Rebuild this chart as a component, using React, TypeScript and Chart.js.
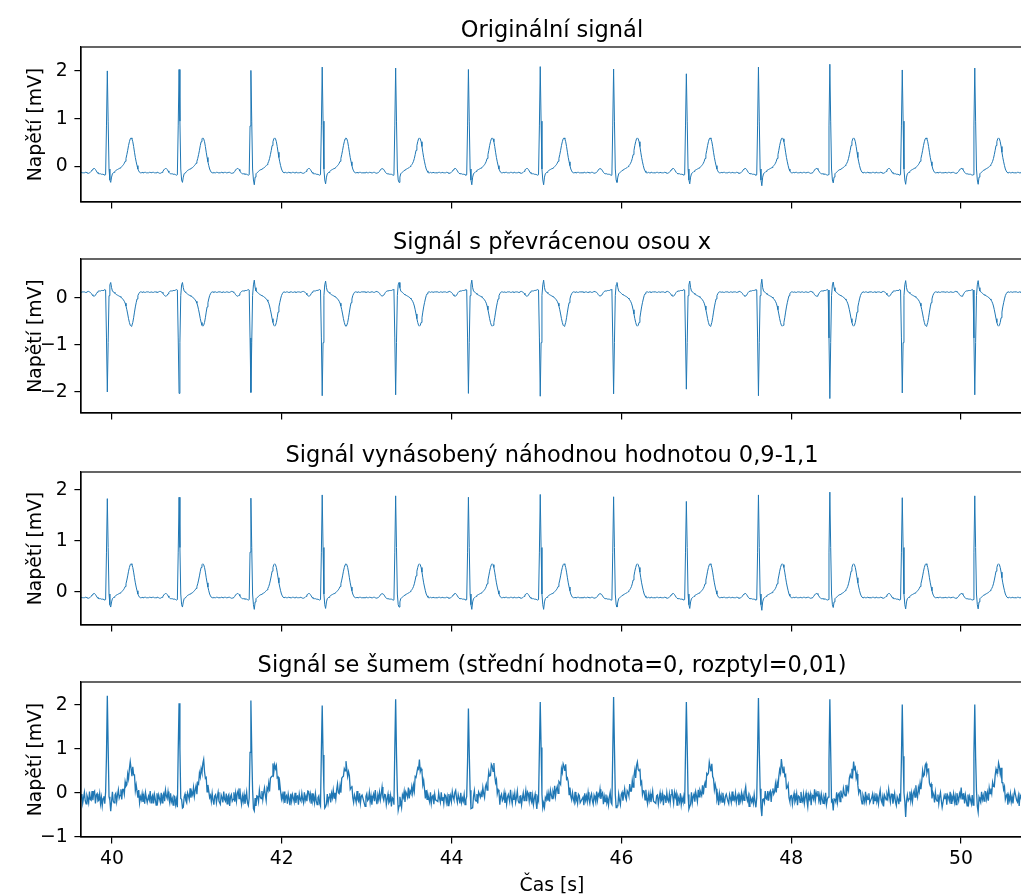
import React, { useEffect, useRef } from 'react';
import { Chart, registerables } from 'chart.js';

Chart.register(...registerables);
Chart.defaults.font.family = "'DejaVu Sans', sans-serif";
Chart.defaults.color = '#000';

// ---------------- data ----------------
// R-peak times [s] (last one lies beyond the visible window)
const beatTimes = [39.945, 40.79, 41.636, 42.476, 43.341, 44.198, 45.044, 45.908, 46.765, 47.614, 48.455, 49.308, 50.162, 51.015];
// R-peak heights of the original signal [mV]
const rPeaks = [2.0, 2.03, 2.01, 2.08, 2.06, 2.03, 2.09, 2.04, 1.94, 2.08, 2.14, 2.02, 2.06, 2.05];
// S-wave depths of the original signal [mV]
const sDepths = [-0.33, -0.33, -0.38, -0.36, -0.33, -0.38, -0.38, -0.33, -0.36, -0.4, -0.34, -0.37, -0.37, -0.36];
// R-peak heights seen in the noisy panel [mV]
const noisyRPeaks = [2.21, 2.04, 2.1, 1.99, 2.13, 1.92, 2.07, 2.18, 2.07, 2.16, 2.13, 2.01, 2.01, 2.05];

const templateStart = -0.36;
const templateStep = 0.01;
const rIndex = 36;
const sIndex = 40;
const beatTemplate = [
  -0.13, -0.12, -0.12, -0.13, -0.13, -0.12, -0.12, -0.13, -0.13, -0.13,
  -0.12, -0.12, -0.13, -0.14, -0.14, -0.13, -0.12, -0.1, -0.07, -0.05,
  -0.04, -0.04, -0.06, -0.09, -0.12, -0.14, -0.15, -0.15, -0.15, -0.16,
  -0.16, -0.16, -0.17, -0.18, -0.17, 0.85, 2.0, 0.95, -0.05, -0.28,
  -0.35, -0.22, -0.15, -0.13, -0.12, -0.1, -0.08, -0.07, -0.06, -0.05,
  -0.04, -0.03, -0.02, 0.0, 0.02, 0.04, 0.07, 0.11, 0.17, 0.25,
  0.34, 0.44, 0.52, 0.58, 0.6, 0.58, 0.52, 0.42, 0.3, 0.19,
  0.1, 0.02, -0.05, -0.09, -0.12, -0.13, -0.13, -0.12, -0.13, -0.13,
  -0.12, -0.12, -0.13, -0.13,
];

// gain applied in the third panel (read from the ratio of the peaks)
const gainFactor = 0.915;

// additive noise of the fourth panel [mV]
const noise = [
  0.03, -0.08, 0.12, -0.04, -0.15, 0.06, 0.09, -0.11, 0.02, 0.14, -0.06, -0.13, 0.07, 0.01, -0.09, 0.16,
  -0.03, -0.07, 0.11, -0.12, 0.05, 0.08, -0.18, 0.04, 0.1, -0.05, -0.02, 0.13, -0.1, 0.06, -0.14, 0.03,
  0.09, -0.07, 0.19, -0.01, -0.12, 0.08, -0.04, 0.11, -0.09, 0.02, 0.17, -0.06, -0.11, 0.05, 0.07, -0.13,
  0.01, 0.12, -0.08, -0.03, 0.1, -0.15, 0.06, 0.04, -0.1, 0.14, -0.02, -0.07, 0.09, -0.12, 0.03, 0.13,
  -0.05, -0.2, 0.07, -0.01, 0.11, -0.14, 0.08, 0.02, -0.06, 0.15, -0.11, 0.04, -0.03, 0.1, -0.08, 0.06,
  -0.13, 0.12, 0.01, -0.09, 0.05, -0.04, 0.16, -0.1, 0.03, 0.07, -0.12, 0.09, -0.02, -0.15, 0.11, -0.06,
  0.08, 0.0, -0.08, 0.13, -0.11, 0.04, 0.06, -0.14, 0.1, -0.03, -0.07, 0.12, -0.01, -0.09, 0.14, -0.05,
  0.02, -0.12, 0.09, 0.07, -0.1, 0.03, -0.16, 0.11, -0.04, 0.06, -0.08, 0.13, -0.02, -0.11, 0.05, 0.1,
  -0.06, -0.13, 0.08, 0.01, -0.09, 0.15, -0.07, 0.04, -0.03, 0.12, -0.1, 0.02, 0.09, -0.14, 0.06, -0.05,
  0.11, -0.08, 0.03, -0.12, 0.07, 0.18, -0.04, -0.09, 0.05, -0.17, 0.08, 0.02, -0.06,
];

// axes
const xMin = 39.635;
const xMax = 50.73;
const xTicks = [40, 42, 44, 46, 48, 50];
const xLabel = 'Čas [s]';
const yLabel = 'Napětí [mV]';

const titles = [
  'Originální signál',
  'Signál s převrácenou osou x',
  'Signál vynásobený náhodnou hodnotou 0,9-1,1',
  'Signál se šumem (střední hodnota=0, rozptyl=0,01)',
];
const yRanges = [
  [-0.74, 2.5],
  [-2.447, 0.83],
  [-0.655, 2.354],
  [-1.007, 2.524],
];
const yTicks1 = [0, 1, 2];
const yTicks2 = [-2, -1, 0];
const yTicks3 = [0, 1, 2];
const yTicks4 = [-1, 0, 1, 2];

// ---------------- series ----------------
type Pt = { x: number; y: number };

function originalSignal(): Pt[] {
  const pts: Pt[] = [];
  beatTimes.forEach((bt, b) => {
    beatTemplate.forEach((v, i) => {
      let y = v;
      if (i === rIndex) y = rPeaks[b];
      if (i === sIndex) y = sDepths[b];
      pts.push({ x: +(bt + templateStart + i * templateStep).toFixed(4), y });
    });
  });
  return pts;
}

function noisySignal(): Pt[] {
  const pts: Pt[] = [];
  let k = 0;
  beatTimes.forEach((bt, b) => {
    beatTemplate.forEach((v, i) => {
      let y = v;
      if (i === sIndex) y = sDepths[b];
      y = y + noise[k % noise.length];
      if (i === rIndex) y = noisyRPeaks[b];
      pts.push({ x: +(bt + templateStart + i * templateStep).toFixed(4), y });
      k++;
    });
  });
  return pts;
}

const original = originalSignal();
const series = [
  original,
  original.map((p) => ({ x: p.x, y: -p.y })),
  original.map((p) => ({ x: p.x, y: p.y * gainFactor })),
  noisySignal(),
];
const yTickSets = [yTicks1, yTicks2, yTicks3, yTicks4];

// ---------------- layout ----------------
const CANVAS_W = 1023;
const AXIS_LEFT = 81;
const TITLE_SPACE = 47;
const FONT = 18.8;
const TICK_LEN = 6.6;
const layoutSpec = [
  { top: 47, bottom: 202, foot: 8 },
  { top: 259, bottom: 413, foot: 8 },
  { top: 472, bottom: 625, foot: 8 },
  { top: 682, bottom: 837, foot: 60 },
];

const fmt = (v: number) => (v < 0 ? '\u2212' + Math.abs(v) : String(v));

function makeFramePlugin(title: string) {
  return {
    id: 'frame',
    afterDraw(chart: any) {
      const { ctx, chartArea: a } = chart;
      ctx.save();
      ctx.strokeStyle = '#000';
      ctx.lineWidth = 1.2;
      ctx.strokeRect(a.left, a.top, a.right - a.left, a.bottom - a.top);
      ctx.fillStyle = '#000';
      ctx.font = "22.5px 'DejaVu Sans', sans-serif";
      ctx.textAlign = 'center';
      ctx.textBaseline = 'alphabetic';
      ctx.fillText(title, (a.left + a.right) / 2, a.top - 10.5);
      ctx.restore();
    },
  };
}

function Panel({ idx }: { idx: number }) {
  const ref = useRef<HTMLCanvasElement>(null);
  const spec = layoutSpec[idx];
  const canvasTop = spec.top - TITLE_SPACE;
  const h = spec.bottom - canvasTop + spec.foot;
  const isLast = idx === 3;

  useEffect(() => {
    const gridOpts = {
      display: true,
      drawOnChartArea: false,
      drawTicks: true,
      tickLength: TICK_LEN,
      color: '#000',
      lineWidth: 1.2,
    };
    const chart = new Chart(ref.current as HTMLCanvasElement, {
      type: 'line',
      data: {
        datasets: [
          {
            data: series[idx],
            borderColor: '#1f77b4',
            borderWidth: isLast ? 1.3 : 1,
            pointRadius: 0,
            tension: 0,
            fill: false,
          },
        ],
      },
      options: {
        animation: false,
        responsive: false,
        devicePixelRatio: 1,
        events: [],
        parsing: false,
        layout: { padding: { top: TITLE_SPACE, left: 0, right: 0, bottom: 0 } },
        plugins: { legend: { display: false }, tooltip: { enabled: false }, title: { display: false } },
        scales: {
          x: {
            type: 'linear',
            min: xMin,
            max: xMax,
            grid: gridOpts,
            border: { display: true, color: '#000', width: 1.2 },
            ticks: { display: isLast, color: '#000', font: { size: FONT }, padding: 4, maxRotation: 0 },
            title: { display: isLast, text: xLabel, color: '#000', font: { size: FONT }, padding: { top: 0, bottom: 0 } },
            afterBuildTicks: (s: any) => {
              s.ticks = xTicks.map((v) => ({ value: v }));
            },
            afterFit: (s: any) => {
              s.height = spec.foot;
              s.paddingLeft = 0;
              s.paddingRight = 0;
            },
          },
          y: {
            type: 'linear',
            min: yRanges[idx][0],
            max: yRanges[idx][1],
            grid: gridOpts,
            border: { display: true, color: '#000', width: 1.2 },
            ticks: { color: '#000', font: { size: FONT }, padding: 6.6, callback: (v: any) => fmt(Number(v)) },
            title: { display: true, text: yLabel, color: '#000', font: { size: FONT }, padding: { top: 24.7, bottom: 0 } },
            afterBuildTicks: (s: any) => {
              s.ticks = yTickSets[idx].map((v) => ({ value: v }));
            },
            afterFit: (s: any) => {
              s.width = AXIS_LEFT;
              s.paddingTop = 0;
              s.paddingBottom = 0;
            },
          },
        },
      } as any,
      plugins: [makeFramePlugin(titles[idx])],
    });
    return () => chart.destroy();
  }, []);

  return (
    <canvas
      ref={ref}
      width={CANVAS_W}
      height={h}
      style={{ position: 'absolute', left: 0, top: canvasTop, width: CANVAS_W, height: h, display: 'block' }}
    />
  );
}

export default function App() {
  return (
    <div
      style={{
        position: 'fixed',
        left: 0,
        top: 0,
        width: 1021,
        height: 896,
        overflow: 'hidden',
        background: '#fff',
      }}
    >
      {[0, 1, 2, 3].map((i) => (
        <Panel key={i} idx={i} />
      ))}
    </div>
  );
}
